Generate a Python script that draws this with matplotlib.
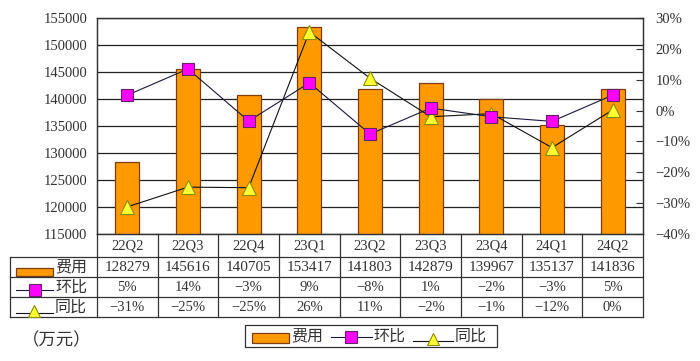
import matplotlib
matplotlib.use("Agg")
import matplotlib.pyplot as plt
from matplotlib.lines import Line2D
from matplotlib.patches import Rectangle
from matplotlib.ticker import FuncFormatter
import matplotlib.transforms as mtransforms

plt.rcParams['font.family'] = ['Liberation Serif', 'Noto Sans CJK SC', 'DejaVu Sans']
plt.rcParams['axes.unicode_minus'] = False

categories = ["22Q2", "22Q3", "22Q4", "23Q1", "23Q2", "23Q3", "23Q4", "24Q1", "24Q2"]
cost = [128279, 145616, 140705, 153417, 141803, 142879, 139967, 135137, 141836]
qoq = [5.0, 13.5, -3.4, 9.0, -7.6, 0.8, -2.0, -3.5, 5.0]
yoy = [-31.2, -24.8, -25.0, 25.5, 10.5, -2.0, -1.0, -12.0, 0.2]
qoq_labels = ["5%", "14%", "-3%", "9%", "-8%", "1%", "-2%", "-3%", "5%"]
yoy_labels = ["-31%", "-25%", "-25%", "26%", "11%", "-2%", "-1%", "-12%", "0%"]
series_names = ["费用", "环比", "同比"]
unit_text = "（万元）"

W, H = 700, 361
fig = plt.figure(figsize=(7, 3.61), dpi=100)
fig.patch.set_facecolor("white")

def fx(px):
    return px / W

def fy(py):
    return 1 - py / H

L, R, T, B = 97, 643, 18, 234
ax = fig.add_axes([fx(L), fy(B), fx(R - L), (B - T) / H])
ax2 = ax.twinx()

ORANGE = "#FF9900"
BAR_EDGE = "#7A3E10"
MAG = "#FF00FF"
MAG_EDGE = "#6B1F6B"
YEL = "#FFFF33"
YEL_EDGE = "#8C8C00"

x = list(range(len(categories)))
ax.bar(x, cost, width=0.4, color=ORANGE, edgecolor=BAR_EDGE, linewidth=0.9, zorder=2)
ax.set_ylim(115000, 155000)
ax.set_xlim(-0.5, len(categories) - 0.5)
ax.set_yticks(range(115000, 155001, 5000))
ax.yaxis.grid(True, color="#222222", linewidth=0.9)
ax.set_axisbelow(True)
ax.set_xticks([])
ax.tick_params(axis="y", length=0, pad=7, labelsize=10.5, colors="#333333")
for s in ax.spines.values():
    s.set_color("#333333")
    s.set_linewidth(0.9)

ax2.plot(x, qoq, color="#1a1a3a", linewidth=0.8, marker="s", markersize=9,
         markerfacecolor=MAG, markeredgecolor=MAG_EDGE, markeredgewidth=0.8, zorder=4)
ax2.plot(x, yoy, color="#111111", linewidth=0.8, marker="^", markersize=10,
         markerfacecolor=YEL, markeredgecolor=YEL_EDGE, markeredgewidth=0.8, zorder=3)
ax2.set_ylim(-40, 30)
ax2.set_yticks(range(-40, 31, 10))
ax2.yaxis.set_major_formatter(FuncFormatter(lambda v, p: f"{int(v)}%" if v >= 0 else f"−{int(-v)}%"))
ax2.tick_params(axis="y", direction="in", length=5, pad=9, labelsize=10.5, colors="#333333")
for s in ax2.spines.values():
    s.set_color("#333333")
    s.set_linewidth(0.9)

# ---- data table below the plot ----
LINE_C = "#333333"
TL = 10

def hline(x0, x1, y):
    fig.add_artist(Line2D([fx(x0), fx(x1)], [fy(y), fy(y)], color=LINE_C, linewidth=0.9))

def vline(xp, y0, y1):
    fig.add_artist(Line2D([fx(xp), fx(xp)], [fy(y0), fy(y1)], color=LINE_C, linewidth=0.9))

hline(TL, R, 257)
hline(TL, R, 277)
hline(TL, R, 297)
hline(TL, R, 317)
vline(TL, 257, 317)
vline(L, 234, 317)
slot = (R - L) / len(categories)
for i in range(1, len(categories) + 1):
    vline(L + slot * i, 234, 317)

trans = mtransforms.blended_transform_factory(ax.transData, fig.transFigure)
fs = 10.5
for i, c in enumerate(categories):
    fig.text(i, fy(246), c, transform=trans, ha="center", va="center", fontsize=fs, color="#333333")
    fig.text(i, fy(267.5), f"{cost[i]}", transform=trans, ha="center", va="center", fontsize=fs + 0.5, color="#333333")
    fig.text(i, fy(287.5), qoq_labels[i].replace("-", "−"), transform=trans, ha="center", va="center", fontsize=fs, color="#333333")
    fig.text(i, fy(307.5), yoy_labels[i].replace("-", "−"), transform=trans, ha="center", va="center", fontsize=fs, color="#333333")

# row legend keys
fig.add_artist(Rectangle((fx(16), fy(276)), fx(37), 8 / H, facecolor=ORANGE, edgecolor=BAR_EDGE, linewidth=0.9))
fig.text(fx(55), fy(267.5), series_names[0], ha="left", va="center", fontsize=fs + 1, color="#333333")
fig.add_artist(Line2D([fx(16), fx(53)], [fy(290), fy(290)], color="#1a1a3a", linewidth=0.8))
fig.add_artist(Line2D([fx(35)], [fy(290)], marker="s", markersize=8, markerfacecolor=MAG,
                      markeredgecolor=MAG_EDGE, markeredgewidth=0.8, linestyle="none"))
fig.text(fx(55), fy(287.5), series_names[1], ha="left", va="center", fontsize=fs + 1, color="#333333")
fig.add_artist(Line2D([fx(16), fx(53)], [fy(313), fy(313)], color="#111111", linewidth=0.8))
fig.add_artist(Line2D([fx(34)], [fy(311)], marker="^", markersize=9, markerfacecolor=YEL,
                      markeredgecolor=YEL_EDGE, markeredgewidth=0.8, linestyle="none"))
fig.text(fx(55), fy(307.5), series_names[2], ha="left", va="center", fontsize=fs + 1, color="#333333")

fig.text(fx(22), fy(340), unit_text, ha="left", va="center", fontsize=fs + 2,
         color="#333333", family=["Noto Sans CJK SC", "DejaVu Sans"])

# bottom legend
fig.add_artist(Rectangle((fx(245), fy(347)), fx(252), 22 / H, facecolor="white", edgecolor=LINE_C, linewidth=0.9))
fig.add_artist(Rectangle((fx(252), fy(343)), fx(37), 10 / H, facecolor=ORANGE, edgecolor=BAR_EDGE, linewidth=0.9))
fig.text(fx(291), fy(336.5), series_names[0], ha="left", va="center", fontsize=fs + 1, color="#333333")
fig.add_artist(Line2D([fx(331), fx(372)], [fy(337), fy(337)], color="#1a1a3a", linewidth=0.8))
fig.add_artist(Line2D([fx(351)], [fy(337)], marker="s", markersize=8, markerfacecolor=MAG,
                      markeredgecolor=MAG_EDGE, markeredgewidth=0.8, linestyle="none"))
fig.text(fx(373), fy(336.5), series_names[1], ha="left", va="center", fontsize=fs + 1, color="#333333")
fig.add_artist(Line2D([fx(413), fx(453)], [fy(341), fy(341)], color="#111111", linewidth=0.8))
fig.add_artist(Line2D([fx(433)], [fy(339)], marker="^", markersize=9, markerfacecolor=YEL,
                      markeredgecolor=YEL_EDGE, markeredgewidth=0.8, linestyle="none"))
fig.text(fx(455), fy(336.5), series_names[2], ha="left", va="center", fontsize=fs + 1, color="#333333")

fig.savefig("out.png", dpi=100, facecolor="white")
